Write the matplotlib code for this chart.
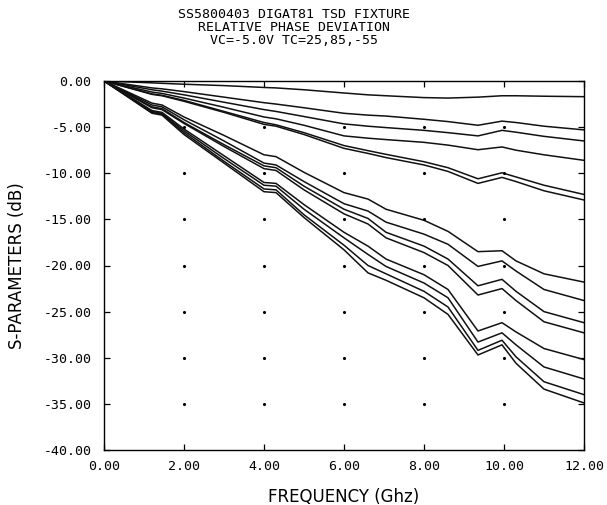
import numpy as np
import matplotlib
matplotlib.use('Agg')
import matplotlib.pyplot as plt

# frequency points (GHz) where the traces were read
freq = [0, 1.2, 1.45, 2, 3, 4, 4.3, 5, 6, 6.6, 7.05, 8, 8.6, 9.35, 9.95, 10.3, 11, 12]

# upper bundle
trace_01 = [0, -0.2, -0.25, -0.35, -0.5, -0.7, -0.75, -0.95, -1.3, -1.5, -1.6, -1.8, -1.85, -1.75, -1.6, -1.6, -1.65, -1.7]
trace_02 = [0, -0.75, -0.85, -1.15, -1.75, -2.35, -2.5, -2.9, -3.5, -3.7, -3.8, -4.15, -4.4, -4.8, -4.35, -4.5, -4.9, -5.3]
trace_03 = [0, -0.95, -1.1, -1.5, -2.3, -3.1, -3.3, -3.85, -4.65, -4.9, -5.05, -5.35, -5.6, -5.95, -5.35, -5.55, -6.0, -6.5]
trace_04 = [0, -1.2, -1.35, -1.85, -2.85, -3.9, -4.1, -4.8, -5.95, -6.2, -6.35, -6.65, -6.95, -7.45, -7.15, -7.5, -8.0, -8.6]
trace_05 = [0, -1.4, -1.55, -2.1, -3.3, -4.5, -4.75, -5.6, -7.0, -7.55, -7.95, -8.75, -9.4, -10.6, -9.95, -10.4, -11.3, -12.3]
trace_06 = [0, -1.45, -1.6, -2.2, -3.4, -4.7, -4.9, -5.8, -7.3, -7.85, -8.3, -9.1, -9.8, -11.1, -10.45, -10.9, -11.9, -12.9]

# lower bundle
trace_07 = [0, -2.4, -2.6, -3.9, -5.9, -8.0, -8.2, -9.9, -12.1, -12.8, -13.9, -15.1, -16.3, -18.5, -18.4, -19.5, -20.9, -21.8]
trace_08 = [0, -2.6, -2.8, -4.2, -6.5, -8.9, -9.1, -10.9, -13.3, -14.1, -15.3, -16.6, -17.7, -20.1, -19.5, -20.6, -22.6, -23.8]
trace_09 = [0, -2.8, -3.0, -4.5, -6.9, -9.2, -9.4, -11.4, -13.9, -14.9, -16.4, -17.9, -19.3, -22.2, -21.5, -22.8, -25.0, -26.2]
trace_10 = [0, -2.9, -3.1, -4.6, -7.1, -9.5, -9.7, -11.8, -14.4, -15.5, -17.0, -18.6, -20.0, -23.2, -22.5, -23.8, -26.1, -27.3]
trace_11 = [0, -3.2, -3.4, -5.2, -8.1, -11.0, -11.1, -13.4, -16.4, -17.9, -19.3, -21.0, -22.6, -27.1, -26.2, -27.2, -29.0, -30.2]
trace_12 = [0, -3.3, -3.5, -5.4, -8.4, -11.3, -11.4, -13.9, -17.0, -18.8, -20.1, -21.9, -23.5, -28.3, -27.3, -28.6, -31.0, -32.3]
trace_13 = [0, -3.4, -3.6, -5.6, -8.7, -11.7, -11.8, -14.5, -17.8, -20.0, -20.9, -22.8, -24.5, -29.2, -28.1, -29.9, -32.6, -34.0]
trace_14 = [0, -3.5, -3.7, -5.8, -8.9, -12.0, -12.1, -14.8, -18.3, -20.8, -21.6, -23.5, -25.3, -29.7, -28.6, -30.6, -33.4, -34.9]

x_ticks = [0, 2, 4, 6, 8, 10, 12]
y_ticks = [0, -5, -10, -15, -20, -25, -30, -35, -40]

title_lines = ["SS5800403 DIGAT81 TSD FIXTURE",
               "RELATIVE PHASE DEVIATION",
               "VC=-5.0V TC=25,85,-55"]

traces = [trace_01, trace_02, trace_03, trace_04, trace_05, trace_06, trace_07,
          trace_08, trace_09, trace_10, trace_11, trace_12, trace_13, trace_14]

fig = plt.figure(figsize=(6.07, 5.05), dpi=100)
ax = fig.add_axes([104/607, 1 - 450/505, 480/607, 369/505])

for tr in traces:
    ax.plot(freq, tr, color='#111111', lw=1.1)

# grid dots at the inner tick crossings
gx, gy = np.meshgrid(x_ticks[1:-1], y_ticks[1:-1])
ax.plot(gx.ravel(), gy.ravel(), 'k.', markersize=2.5)

ax.set_xlim(0, 12)
ax.set_ylim(-40, 0)
ax.set_xticks(x_ticks)
ax.set_yticks(y_ticks)
ax.set_xticklabels([f"{v:.2f}" for v in x_ticks], family='DejaVu Sans Mono', fontsize=9.5)
ax.set_yticklabels([f"{v:.2f}" for v in y_ticks], family='DejaVu Sans Mono', fontsize=9.5)
ax.tick_params(direction='in', length=4, width=0.9, top=True, right=True, pad=7)
ax.tick_params(axis='y', pad=9)
for sp in ax.spines.values():
    sp.set_linewidth(1.0)

ax.set_xlabel("FREQUENCY (Ghz)", fontsize=12, labelpad=11)
fig.text(17/607, 1 - 266/505, "S-PARAMETERS (dB)", rotation=90, fontsize=12,
         ha='center', va='center')

for i, line in enumerate(title_lines):
    fig.text(294/607, 1 - (15 + 12.5 * i)/505, line, family='DejaVu Sans Mono',
             fontsize=9.5, ha='center', va='center')

fig.savefig('out.png', dpi=100)
